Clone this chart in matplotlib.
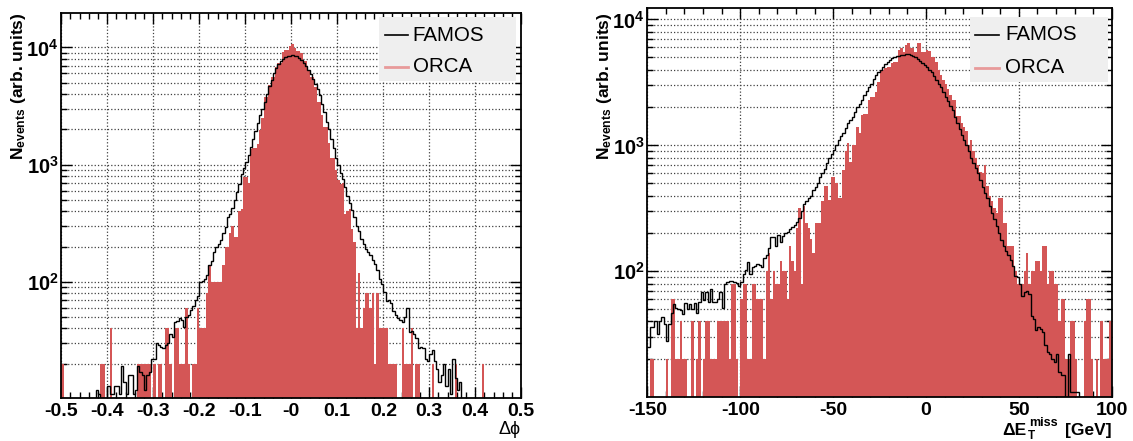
import numpy as np
import matplotlib
matplotlib.use('Agg')
import matplotlib.pyplot as plt
from matplotlib.ticker import FixedLocator, LogLocator, NullFormatter, MultipleLocator
from matplotlib.patches import Rectangle

plt.rcParams['font.family'] = ['Liberation Sans', 'DejaVu Sans']
plt.rcParams['mathtext.fontset'] = 'custom'
plt.rcParams['mathtext.rm'] = 'Liberation Sans'
plt.rcParams['mathtext.bf'] = 'Liberation Sans:bold'
plt.rcParams['mathtext.it'] = 'Liberation Sans:italic'

# ---- data (200 bins each) ----
dphi_edges = np.linspace(-0.5, 0.5, 201)
met_edges = np.linspace(-150, 100, 201)

famos_dphi = [
    0, 0, 0, 0, 0, 0, 0, 0, 0, 0,
    0, 0, 0, 0, 0, 12, 11, 0, 0, 0,
    13, 11, 11, 13, 13, 11, 19, 14, 11, 16,
    16, 11, 12, 19, 17, 16, 12, 16, 17, 22,
    22, 30, 29, 28, 27, 29, 30, 36, 34, 45,
    46, 49, 47, 41, 50, 52, 58, 62, 70, 75,
    100, 102, 106, 115, 138, 150, 180, 198, 210, 228,
    260, 295, 360, 380, 430, 500, 580, 690, 840, 930,
    1050, 1200, 1410, 1650, 1950, 2250, 2630, 3000, 3400, 4000,
    4700, 5300, 6000, 6700, 7200, 7700, 8000, 8250, 8400, 8500,
    8550, 8500, 8400, 8100, 7800, 7400, 6900, 6400, 5900, 5400,
    4900, 4450, 3900, 3300, 2800, 2300, 2000, 1650, 1400, 1150,
    1000, 850, 750, 650, 540, 470, 410, 360, 300, 270,
    230, 210, 190, 180, 170, 155, 143, 125, 105, 95,
    82, 68, 70, 66, 56, 52, 49, 47, 45, 50,
    60, 37, 38, 36, 33, 27, 28, 27, 22, 21,
    24, 26, 21, 18, 14, 16, 20, 13, 18, 11,
    22, 15, 12, 14, 0, 0, 0, 0, 0, 0,
    0, 0, 0, 0, 0, 0, 0, 0, 0, 0,
    0, 0, 0, 0, 0, 0, 0, 0, 0, 0,
]

orca_dphi = [
    20, 0, 0, 0, 0, 0, 0, 0, 0, 0,
    0, 0, 0, 0, 0, 0, 0, 20, 20, 0,
    0, 40, 0, 0, 0, 0, 0, 0, 0, 0,
    0, 0, 0, 20, 20, 20, 20, 20, 20, 0,
    20, 0, 20, 20, 0, 40, 40, 20, 0, 40,
    40, 20, 20, 20, 60, 20, 0, 20, 20, 60,
    40, 40, 40, 80, 140, 100, 100, 100, 100, 100,
    140, 200, 200, 260, 300, 240, 240, 400, 420, 780,
    780, 700, 1360, 1380, 1380, 1500, 1960, 2480, 3800, 3800,
    4740, 5600, 5600, 6800, 7300, 7300, 9100, 9600, 9600, 10300,
    10800, 9800, 9400, 9400, 8900, 7600, 7600, 6300, 5600, 5600,
    4600, 3400, 3400, 2640, 2100, 2100, 1520, 1140, 1140, 900,
    740, 680, 700, 380, 400, 420, 280, 220, 40, 120,
    40, 60, 80, 80, 60, 80, 20, 80, 40, 40,
    40, 40, 20, 20, 20, 20, 0, 0, 40, 20,
    20, 20, 40, 0, 20, 20, 0, 0, 0, 0,
    0, 20, 0, 0, 0, 0, 0, 0, 0, 0,
    0, 20, 0, 0, 0, 0, 0, 0, 0, 0,
    0, 0, 0, 20, 0, 0, 0, 0, 0, 0,
    0, 0, 0, 0, 0, 0, 0, 0, 0, 0,
]

famos_met = [
    25, 36, 36, 40, 32, 40, 43, 38, 28, 38,
    47, 55, 51, 50, 49, 46, 56, 50, 55, 50,
    56, 47, 57, 68, 59, 68, 57, 72, 57, 57,
    60, 69, 51, 80, 82, 84, 84, 82, 81, 76,
    82, 95, 102, 119, 95, 108, 110, 115, 113, 108,
    127, 135, 152, 188, 188, 159, 194, 171, 190, 200,
    206, 215, 225, 232, 245, 265, 300, 340, 360, 385,
    400, 440, 470, 500, 560, 600, 650, 720, 800, 860,
    915, 1000, 1100, 1180, 1250, 1380, 1500, 1600, 1680, 1850,
    2000, 2150, 2290, 2500, 2700, 2900, 3100, 3350, 3600, 3800,
    3960, 4200, 4400, 4600, 4750, 4900, 5000, 5100, 5150, 5200,
    5250, 5300, 5300, 5250, 5150, 5000, 4850, 4650, 4500, 4340,
    4200, 4000, 3800, 3550, 3300, 3100, 2900, 2650, 2430, 2250,
    2050, 1900, 1680, 1500, 1350, 1220, 1100, 1000, 900, 800,
    720, 660, 600, 530, 470, 420, 380, 330, 290, 260,
    230, 200, 177, 160, 145, 135, 123, 110, 92, 90,
    80, 64, 68, 70, 66, 44, 42, 34, 36, 35,
    33, 26, 23, 22, 20, 19, 22, 16, 15, 15,
    0, 22, 11, 11, 11, 11, 0, 0, 0, 0,
    0, 0, 0, 0, 0, 0, 0, 0, 0, 0,
]

orca_met = [
    0, 20, 20, 0, 0, 0, 0, 0, 20, 0,
    60, 60, 20, 20, 40, 20, 20, 0, 0, 40,
    0, 20, 40, 0, 20, 40, 40, 20, 20, 20,
    40, 40, 40, 40, 40, 20, 80, 80, 20, 0,
    60, 80, 80, 20, 20, 80, 80, 60, 60, 60,
    20, 100, 140, 60, 100, 80, 80, 120, 100, 100,
    60, 160, 120, 100, 220, 320, 80, 330, 240, 220,
    180, 140, 240, 240, 240, 360, 480, 480, 370, 560,
    560, 500, 380, 380, 640, 910, 1040, 740, 1000, 1000,
    1410, 1250, 1740, 1790, 1790, 2290, 2430, 2430, 2660, 3180,
    3960, 3960, 4100, 4200, 4200, 4490, 4600, 4600, 5760, 5900,
    5540, 6300, 6460, 5900, 5900, 5540, 6460, 6460, 5540, 5540,
    5700, 5600, 5000, 5000, 4600, 4000, 3600, 3300, 3100, 2800,
    2500, 2290, 2290, 1700, 1700, 1500, 1400, 1300, 1000, 1100,
    900, 800, 700, 620, 600, 700, 480, 400, 360, 320,
    290, 380, 380, 240, 240, 160, 160, 160, 100, 80,
    80, 80, 100, 140, 80, 100, 100, 120, 120, 100,
    160, 160, 80, 100, 100, 80, 80, 40, 60, 60,
    20, 20, 40, 40, 20, 0, 0, 0, 40, 60,
    60, 20, 0, 20, 0, 40, 20, 20, 20, 40,
]

dphi_ticks = [-0.5, -0.4, -0.3, -0.2, -0.1, 0.0, 0.1, 0.2, 0.3, 0.4, 0.5]
dphi_labels = ['-0.5', '-0.4', '-0.3', '-0.2', '-0.1', '-0', '0.1', '0.2', '0.3', '0.4', '0.5']
met_ticks = [-150, -100, -50, 0, 50, 100]
met_labels = ['-150', '-100', '-50', '0', '50', '100']

ORCA_RED = '#d45656'
ORCA_LEG = '#e89a9a'
W, H = 1133, 441


def draw_panel(ax, edges, famos, orca, ylim, xticks, xlabels, xminor, legend_box):
    famos = np.asarray(famos, float)
    orca = np.asarray(orca, float)
    floor = ylim[0] * 0.3
    ax.set_yscale('log')
    ax.stairs(np.where(orca > 0, orca, floor), edges, baseline=floor, fill=True,
              color=ORCA_RED, lw=0, zorder=2)
    ax.stairs(np.where(famos > 0, famos, floor), edges, baseline=None,
              color='black', lw=1.0, zorder=3)
    ax.set_xlim(edges[0], edges[-1])
    ax.set_ylim(*ylim)

    ax.xaxis.set_major_locator(FixedLocator(xticks))
    ax.set_xticklabels(xlabels, fontsize=14, fontweight='bold')
    ax.xaxis.set_minor_locator(MultipleLocator(xminor))
    ax.yaxis.set_major_locator(FixedLocator([1e2, 1e3, 1e4]))
    ax.set_yticklabels([r'$\mathbf{10^{2}}$', r'$\mathbf{10^{3}}$', r'$\mathbf{10^{4}}$'],
                       fontsize=14.5)
    ax.yaxis.set_minor_locator(LogLocator(base=10, subs=np.arange(2, 10)))
    ax.yaxis.set_minor_formatter(NullFormatter())

    ax.tick_params(which='both', direction='in', top=True, right=True, width=1.0)
    ax.tick_params(which='major', length=8)
    ax.tick_params(which='minor', length=4)
    ax.tick_params(axis='x', pad=4)
    ax.tick_params(axis='y', pad=2)
    for sp in ax.spines.values():
        sp.set_linewidth(1.3)

    ax.set_axisbelow(True)
    ax.grid(True, which='major', axis='x', ls=':', color='0.25', lw=0.9)
    ax.grid(True, which='both', axis='y', ls=':', color='0.25', lw=0.9)

    # legend box
    x0, y0, x1, y1, yf, yo, lx0, lx1, tx = legend_box
    ax.add_patch(Rectangle((x0, y0), x1 - x0, y1 - y0, transform=ax.transAxes,
                           fc='#efefef', ec='none', zorder=5))
    ax.plot([lx0, lx1], [yf, yf], transform=ax.transAxes, color='black', lw=1.2, zorder=6)
    ax.plot([lx0, lx1], [yo, yo], transform=ax.transAxes, color=ORCA_LEG, lw=2.0, zorder=6)
    ax.text(tx, yf, 'FAMOS', transform=ax.transAxes, fontsize=14.8, va='center', zorder=7)
    ax.text(tx, yo, 'ORCA', transform=ax.transAxes, fontsize=14.8, va='center', zorder=7)


fig = plt.figure(figsize=(11.33, 4.41), dpi=100)

ax1 = fig.add_axes([0.0541, 0.0982, 0.406, 0.873])
draw_panel(ax1, dphi_edges, famos_dphi, orca_dphi, (10.26, 19800),
           dphi_ticks, dphi_labels, 0.02,
           (0.69, 0.822, 0.988, 0.989, 0.942, 0.859, 0.704, 0.754, 0.764))

ax2 = fig.add_axes([0.5713, 0.1005, 0.410, 0.881])
draw_panel(ax2, met_edges, famos_met, orca_met, (10.1, 12300),
           met_ticks, met_labels, 10,
           (0.694, 0.81, 0.991, 0.977, 0.931, 0.846, 0.706, 0.758, 0.77))

ylab = r'$\mathbf{N_{events}}$ (arb. units)'
fig.text(9 / W, 1 - 12 / H, ylab, rotation=90, ha='left', va='top',
         fontsize=12.5, fontweight='bold')
fig.text(595 / W, 1 - 12 / H, ylab, rotation=90, ha='left', va='top',
         fontsize=12.5, fontweight='bold')

# x axis titles
fig.text(521 / W, 1 - 438 / H, 'Δϕ', ha='right', va='bottom', fontsize=13)
fig.text(1002 / W, 1 - 435 / H, 'ΔE', ha='left', va='baseline', fontsize=12.5,
         fontweight='bold')
fig.text(1028 / W, 1 - 439 / H, 'T', ha='left', va='baseline', fontsize=8.5,
         fontweight='bold')
fig.text(1029 / W, 1 - 426 / H, 'miss', ha='left', va='baseline', fontsize=9,
         fontweight='bold')
fig.text(1112 / W, 1 - 435 / H, '[GeV]', ha='right', va='baseline', fontsize=12.5,
         fontweight='bold')

fig.savefig('out.png', dpi=100)
